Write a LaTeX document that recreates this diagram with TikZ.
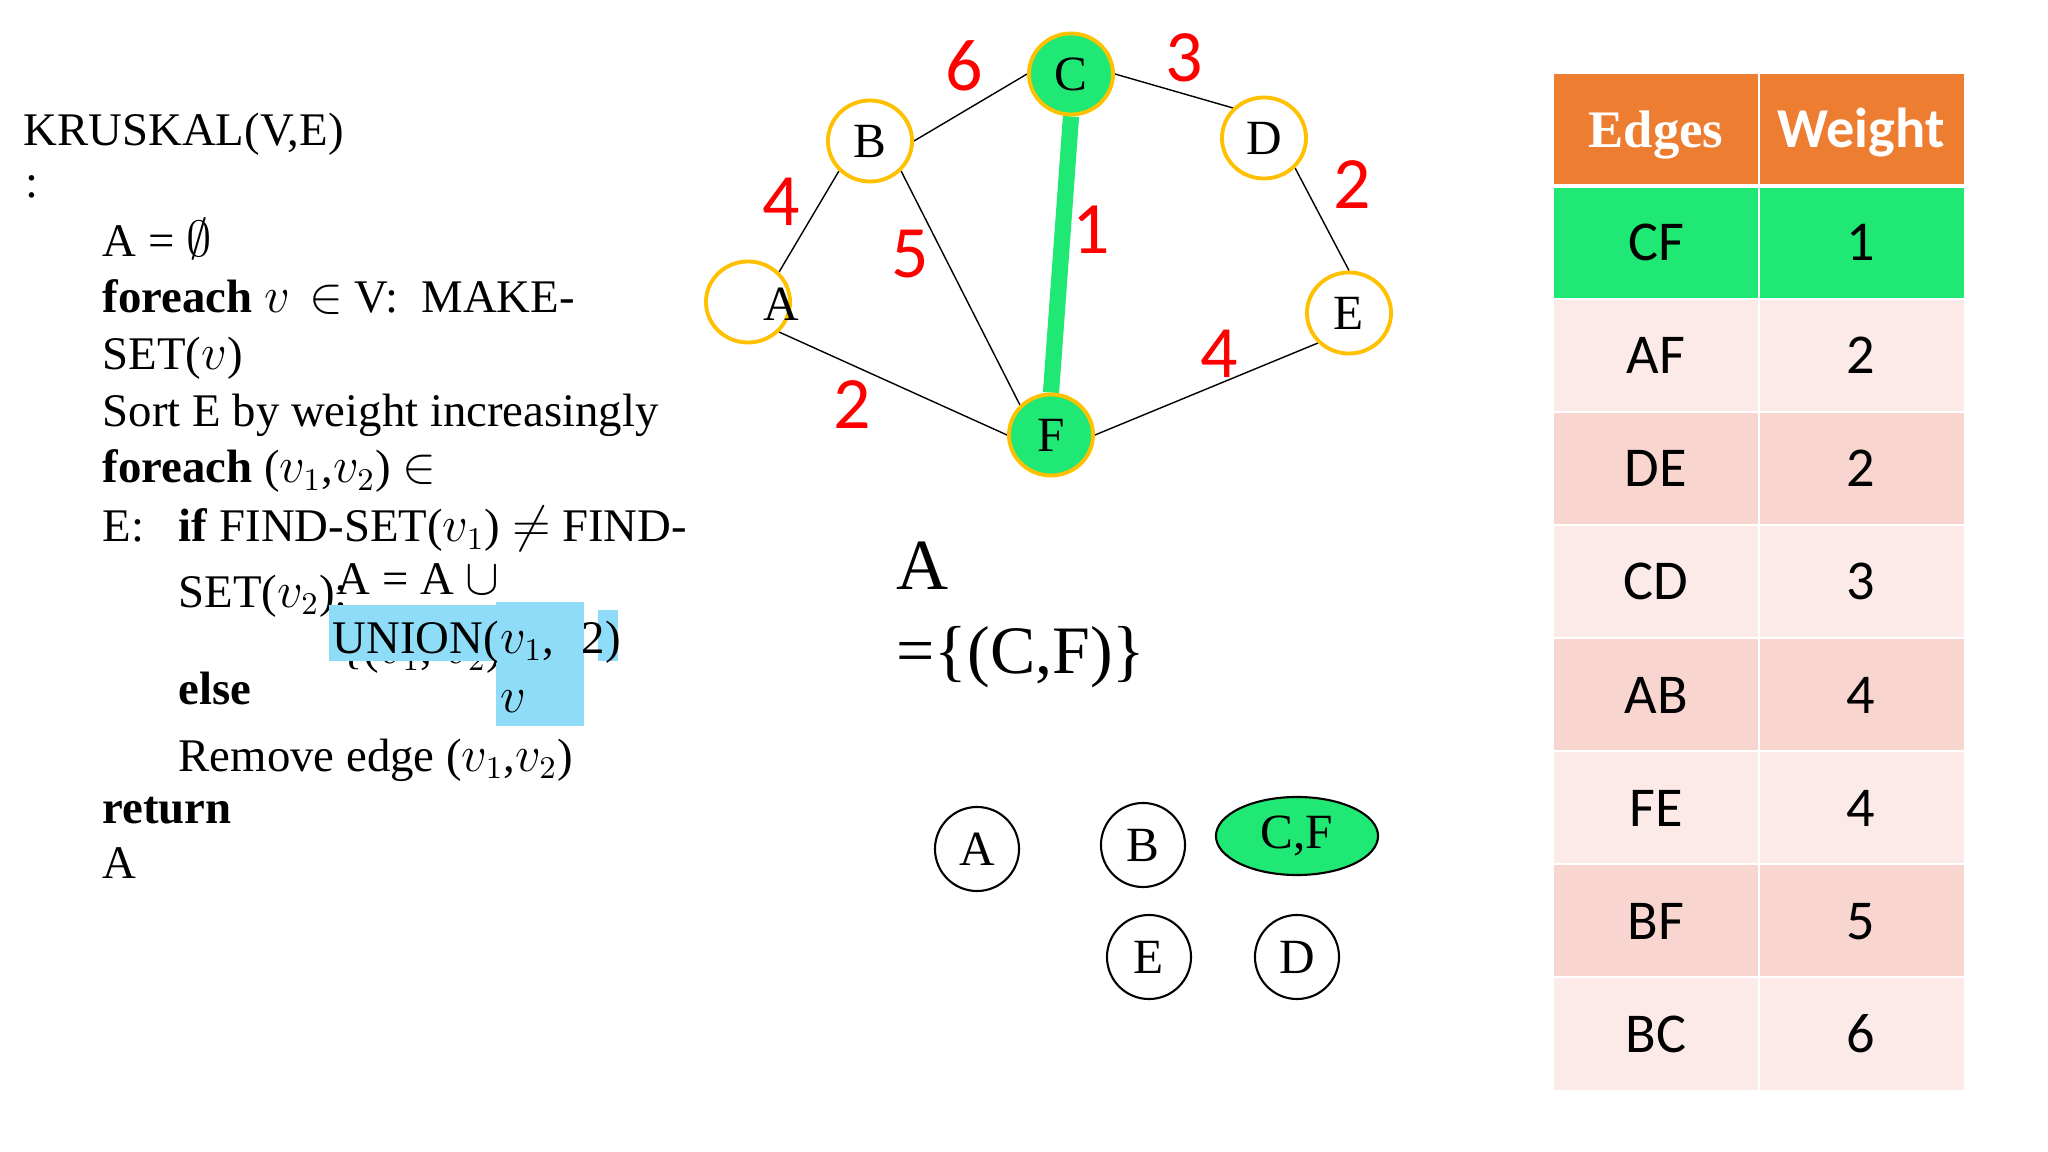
\documentclass[tikz,border=0pt]{standalone}
\usepackage{fontspec}
\setmainfont{Liberation Serif}
\newfontfamily\carl{Carlito}
\usetikzlibrary{shapes.geometric,backgrounds}
\definecolor{nodeorange}{HTML}{FFC000}
\definecolor{mstgreen}{HTML}{1FE874}
\definecolor{hdrorange}{HTML}{ED7D31}
\definecolor{rowlight}{HTML}{FBEAE7}
\definecolor{rowdark}{HTML}{F8D5CE}
\definecolor{hlblue}{HTML}{8FDCF9}
\definecolor{wred}{HTML}{FF0000}
\begin{document}
\begin{tikzpicture}[x=0.01cm,y=-0.01cm,
  code/.style={anchor=base west, inner sep=0pt, font=\fontsize{13.3}{16}\selectfont},
  gnode/.style={ellipse, draw=nodeorange, line width=1.1pt, fill=white, minimum width=0.84cm, minimum height=0.81cm, inner sep=0pt, font=\fontsize{14}{16}\selectfont},
  gsel/.style={gnode, fill=mstgreen},
  gedge/.style={draw=black, line width=0.4pt},
  mst/.style={draw=mstgreen, line width=4.6pt},
  wlab/.style={text=wred, inner sep=0pt, font=\carl\fontsize{21}{24}\selectfont},
  snode/.style={circle, draw=black, line width=0.6pt, minimum size=0.84cm, inner sep=0pt, font=\fontsize{14}{16}\selectfont},
  hcell/.style={anchor=base, inner sep=0pt, text=white},
  cell/.style={anchor=base, inner sep=0pt, font=\carl\fontsize{16}{18}\selectfont},
  big/.style={anchor=base west, inner sep=0pt}]
\useasboundingbox (0,0) rectangle (2048,1152);

% ---------- pseudocode ----------
\node[code] (l1) at (23,146) {KRUSKAL(V,E)};
\node[code] (l2) at (25,198) {:};
\node[code] (l3) at (102,257) {A = $\emptyset$};
\node[code] (l4) at (102,313) {\textbf{foreach} $v$ \,$\in$ V:~~MAKE-};
\node[code] (l5) at (102,370) {SET($v$)};
\node[code] (l6) at (102,427) {Sort E by weight increasingly};
\node[code] (l7) at (102,483) {\textbf{foreach} ($v_1$,$v_2$) $\in$};
\node[code] (l8) at (102,542) {E:};
\node[code] (l9) at (178,542) {\textbf{if} FIND-SET($v_1$) $\neq$ FIND-};
\node[code] (l10) at (178,607) {SET($v_2$):};
\node[code] (l11) at (336,594) {A = A $\cup$};
\node[code] (l12) at (340,663) {\{($v_1$, $v_2$)\}};
\fill[hlblue] (329,605) rectangle (496,661);
\fill[hlblue] (496,602) rectangle (584,726);
\fill[hlblue] (598,610) rectangle (618,661);
\node[code] (l13) at (332,653) {UNION(};
\node[code] (l14) at (500,653) {$v_1$,};
\node[code] (l15) at (581,653) {2)};
\node[code] (l16) at (500,712) {$v$};
\node[code] (l17) at (178,705) {\textbf{else}};
\node[code] (l18) at (178,771) {Remove edge ($v_1$,$v_2$)};
\node[code] (l19) at (102,823) {\textbf{return}};
\node[code] (l20) at (102,878) {A};

% ---------- graph ----------
\node[gsel] (C) at (1071,74) {C};
\node[gnode] (B) at (870,141) {B};
\node[gnode] (D) at (1264,138) {D};
\node[gnode] (A) at (748,302) {};
\node[inner sep=0pt, font=\fontsize{14}{16}\selectfont] (Alab) at (781,304) {A};
\node[gnode] (E) at (1349,313) {E};
\node[gsel] (F) at (1051,435) {F};
\begin{scope}[on background layer]
\draw[gedge] (B.east) -- (C.west);
\draw[gedge] (C.east) -- (D.north west);
\draw[gedge] (A.north east) -- (B.south west);
\draw[gedge] (A.south east) -- (F.west);
\draw[gedge] (B.south east) -- (F.north west);
\draw[gedge] (D.south east) -- (E.north);
\draw[gedge] (F.east) -- (E.south west);
\draw[mst] (C.south) -- (F.north);
\end{scope}
\node[wlab] (w6) at (964,66) {6};
\node[wlab] (w3) at (1184,58) {3};
\node[wlab] (w4a) at (781,202) {4};
\node[wlab] (w5) at (910,254) {5};
\node[wlab] (w1) at (1091,230) {1};
\node[wlab] (w2a) at (1352,185) {2};
\node[wlab] (w2b) at (852,405) {2};
\node[wlab] (w4b) at (1219,354) {4};

% ---------- result ----------
\node[big, font=\fontsize{20.5}{24}\selectfont] (res1) at (896,590) {A};
\node[big, font=\fontsize{19.3}{24}\selectfont] (res2) at (896,673) {=\{(C,F)\}};

% ---------- disjoint sets ----------
\node[snode] (sA) at (977,849) {A};
\node[snode] (sB) at (1143,845) {B};
\node[ellipse, draw=black, line width=0.6pt, fill=mstgreen, minimum width=1.62cm, minimum height=0.78cm, inner sep=0pt, font=\fontsize{14}{16}\selectfont] (sCF) at (1297,836) {C,F};
\node[snode] (sE) at (1149,957) {E};
\node[snode] (sD) at (1297,957) {D};

% ---------- table ----------
\fill[hdrorange] (1554,74) rectangle (1964,186);
\fill[mstgreen] (1554,186) rectangle (1964,299);
\fill[rowlight] (1554,299) rectangle (1964,412);
\fill[rowdark] (1554,412) rectangle (1964,525);
\fill[rowlight] (1554,525) rectangle (1964,638);
\fill[rowdark] (1554,638) rectangle (1964,751);
\fill[rowlight] (1554,751) rectangle (1964,864);
\fill[rowdark] (1554,864) rectangle (1964,977);
\fill[rowlight] (1554,977) rectangle (1964,1090);
\draw[white, line width=1.2pt] (1554,186) -- (1964,186);
\draw[white, line width=0.4pt] (1759,74) -- (1759,1090);
\foreach \yy in {299,412,525,638,751,864,977} \draw[white, line width=0.4pt] (1554,\yy) -- (1964,\yy);
\node[hcell, font=\bfseries\fontsize{15}{18}\selectfont] (h1) at (1656,148) {Edges};
\node[hcell, font=\carl\bfseries\fontsize{16}{18}\selectfont] (h2) at (1861,148) {Weight};
\node[cell] (r1a) at (1656,261) {CF};   \node[cell] (r1b) at (1861,261) {1};
\node[cell] (r2a) at (1656,374) {AF};   \node[cell] (r2b) at (1861,374) {2};
\node[cell] (r3a) at (1656,487) {DE};   \node[cell] (r3b) at (1861,487) {2};
\node[cell] (r4a) at (1656,600) {CD};   \node[cell] (r4b) at (1861,600) {3};
\node[cell] (r5a) at (1656,713) {AB};   \node[cell] (r5b) at (1861,713) {4};
\node[cell] (r6a) at (1656,826) {FE};   \node[cell] (r6b) at (1861,826) {4};
\node[cell] (r7a) at (1656,939) {BF};   \node[cell] (r7b) at (1861,939) {5};
\node[cell] (r8a) at (1656,1052) {BC};  \node[cell] (r8b) at (1861,1052) {6};
\end{tikzpicture}
\end{document}
